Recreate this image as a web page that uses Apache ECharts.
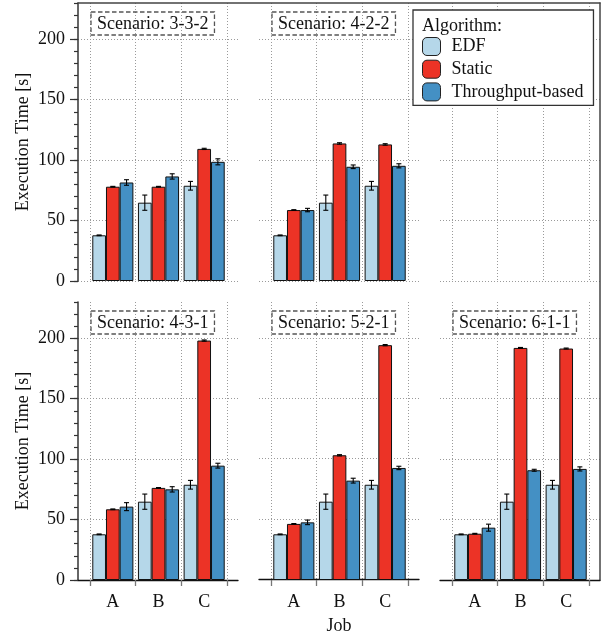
<!DOCTYPE html>
<html><head><meta charset="utf-8">
<script src="https://cdn.jsdelivr.net/npm/echarts@6/dist/echarts.min.js"></script>
<style>html,body{margin:0;padding:0;background:#fff}#c{width:608px;height:636px}</style>
</head><body><div id="c"></div>
<script>
// ---- data ----
const categories = ['A', 'B', 'C'];
const seriesNames = ['EDF', 'Static', 'Throughput-based'];
const yTicks = [0, 50, 100, 150, 200];

const s332_edf = [37.8, 64.8, 78.8];
const s332_static = [78, 78, 109.3];
const s332_thr = [81.5, 86.5, 98.6];
const s332_edfErr = [0.3, 6.3, 3.6];
const s332_staticErr = [0.3, 0.3, 0.5];
const s332_thrErr = [2.3, 2.2, 2.5];

const s422_edf = [37.8, 64.8, 78.8];
const s422_static = [58.7, 113.8, 113.0];
const s422_thr = [58.7, 94.5, 95.3];
const s422_edfErr = [0.3, 6.3, 3.6];
const s422_staticErr = [0.3, 0.6, 0.6];
const s422_thrErr = [1.4, 1.5, 1.7];

const s431_edf = [37.8, 64.8, 78.8];
const s431_static = [58.5, 76.2, 198.1];
const s431_thr = [60.7, 75.0, 94.6];
const s431_edfErr = [0.3, 6.3, 3.6];
const s431_staticErr = [0.3, 0.3, 0.5];
const s431_thrErr = [3.3, 2.2, 2.0];

const s521_edf = [37.8, 64.8, 78.8];
const s521_static = [46.4, 103.2, 194.3];
const s521_thr = [47.7, 82.2, 92.7];
const s521_edfErr = [0.3, 6.3, 3.6];
const s521_staticErr = [0.3, 0.5, 0.5];
const s521_thrErr = [1.9, 2.0, 1.4];

const s611_edf = [37.8, 64.8, 78.8];
const s611_static = [38.3, 192.0, 191.5];
const s611_thr = [43.3, 90.8, 91.9];
const s611_edfErr = [0.3, 6.3, 3.6];
const s611_staticErr = [0.3, 0.4, 0.4];
const s611_thrErr = [2.9, 0.8, 1.7];

const cells = [
  {label: '3-3-2', row: 0, col: 0, values: [s332_edf, s332_static, s332_thr], errors: [s332_edfErr, s332_staticErr, s332_thrErr]},
  {label: '4-2-2', row: 0, col: 1, values: [s422_edf, s422_static, s422_thr], errors: [s422_edfErr, s422_staticErr, s422_thrErr]},
  {label: null, row: 0, col: 2},
  {label: '4-3-1', row: 1, col: 0, values: [s431_edf, s431_static, s431_thr], errors: [s431_edfErr, s431_staticErr, s431_thrErr]},
  {label: '5-2-1', row: 1, col: 1, values: [s521_edf, s521_static, s521_thr], errors: [s521_edfErr, s521_staticErr, s521_thrErr]},
  {label: '6-1-1', row: 1, col: 2, values: [s611_edf, s611_static, s611_thr], errors: [s611_edfErr, s611_staticErr, s611_thrErr]}
];

// ---- style / layout ----
const FONT = 'Liberation Serif';
const FS = 18;
const colors = ['#b5d7e9', '#ec3326', '#4490c4'];
const frameL = [78, 259, 440], frameW = 160, catOff = 12, catW = 137;
const rowT = [3, 302], rowH = 278;
const YMAX = 230;
const gridLine = {color: '#9a9a9a', width: 1, type: [1, 2]};

const grid = [], xAxis = [], yAxis = [], series = [], title = [];

// outer frame (top + right)
grid.push({left: 78, top: 3, width: 522, height: 577});
xAxis.push({gridIndex: 0, type: 'value', min: 0, max: 1, position: 'top',
  axisLine: {show: true, onZero: false, lineStyle: {color: '#444', width: 1.5}},
  axisTick: {show: false}, axisLabel: {show: false}, splitLine: {show: false}});
yAxis.push({gridIndex: 0, type: 'value', min: 0, max: 1, position: 'right',
  axisLine: {show: true, onZero: false, lineStyle: {color: '#444', width: 1.5}},
  axisTick: {show: false}, axisLabel: {show: false}, splitLine: {show: false}});

function errRender(params, api) {
  const ci = api.value(0), lo = api.value(1), hi = api.value(2), k = api.value(3);
  const band = api.size([1, 0])[0];
  const bw = band * 0.9 / 3;
  const cx = api.coord([ci, 0])[0] + (k - 1) * bw;
  const yl = api.coord([ci, lo])[1], yh = api.coord([ci, hi])[1];
  const cap = 2.5;
  const st = {stroke: '#000', lineWidth: 1.1};
  return {type: 'group', children: [
    {type: 'line', shape: {x1: cx, y1: yl, x2: cx, y2: yh}, style: st},
    {type: 'line', shape: {x1: cx - cap, y1: yl, x2: cx + cap, y2: yl}, style: st},
    {type: 'line', shape: {x1: cx - cap, y1: yh, x2: cx + cap, y2: yh}, style: st}
  ]};
}

cells.forEach(c => {
  const top = rowT[c.row];
  // frame grid (y grid lines, y axis, bottom axis line)
  const gF = grid.length;
  grid.push({left: frameL[c.col], top: top, width: frameW, height: rowH});
  const isJob = c.row === 1 && c.col === 1;
  xAxis.push({gridIndex: gF, type: 'value', min: 0, max: 1,
    axisLine: {show: c.row === 1, onZero: false, lineStyle: {color: '#111', width: 1.3}},
    axisTick: {show: false}, axisLabel: {show: false}, splitLine: {show: false},
    name: isJob ? 'Job' : '', nameLocation: 'middle', nameGap: 38,
    nameTextStyle: {fontFamily: FONT, fontSize: FS, color: '#111'}});
  yAxis.push({gridIndex: gF, type: 'value', min: 0, max: YMAX, interval: 50, position: 'left',
    axisLine: {show: c.col === 0, onZero: false, lineStyle: {color: '#333', width: 1.5}},
    axisTick: {show: c.col === 0, length: 8, lineStyle: {color: '#333', width: 1.2}},
    axisLabel: {show: c.col === 0, showMaxLabel: false, margin: 13, fontFamily: FONT, fontSize: FS, color: '#111',
      formatter: v => yTicks.includes(v) ? String(v) : ''},
    splitLine: {show: true, showMaxLine: false, lineStyle: gridLine},
    name: c.col === 0 ? 'Execution Time [s]' : '', nameLocation: 'middle', nameGap: 46,
    nameTextStyle: {fontFamily: FONT, fontSize: FS, color: '#111'}});
  if (c.col === 0) {
    yAxis.push({gridIndex: gF, type: 'value', min: 0, max: YMAX, interval: 10, position: 'left',
      axisLine: {show: false}, axisTick: {show: true, length: 4, lineStyle: {color: '#333', width: 1.2}},
      axisLabel: {show: false}, splitLine: {show: false}});
  }
  // bar grid
  const gB = grid.length;
  grid.push({left: frameL[c.col] + catOff, top: top, width: catW, height: rowH});
  const xB = xAxis.length;
  xAxis.push({gridIndex: gB, type: 'category', data: categories, boundaryGap: true,
    axisLine: {show: false},
    axisTick: {show: c.row === 1, length: 6, lineStyle: {color: '#777', width: 1.3}},
    axisLabel: {show: c.row === 1, margin: 13, fontFamily: FONT, fontSize: FS, color: '#111'},
    splitLine: {show: true, lineStyle: gridLine}});
  const yB = yAxis.length;
  yAxis.push({gridIndex: gB, type: 'value', min: 0, max: YMAX, show: false});

  if (c.label) {
    title.push({text: '{b|Scenario: ' + c.label + '}', left: frameL[c.col] + catOff + 1, top: top + 9, padding: 0,
      textStyle: {fontFamily: FONT, fontWeight: 'normal', fontSize: FS,
        rich: {b: {fontFamily: FONT, fontWeight: 'normal', fontSize: FS, color: '#111', padding: [3, 6, 2, 6],
        borderColor: '#555', borderWidth: 1.3, borderType: [4.5, 2.5]}}}});
    [0, 1, 2].forEach(k => {
      series.push({type: 'bar', name: seriesNames[k], xAxisIndex: xB, yAxisIndex: yB, data: c.values[k],
        barGap: '0%', barCategoryGap: '10%',
        itemStyle: {color: colors[k], borderColor: '#111', borderWidth: 1},
        emphasis: {disabled: true}, animation: false});
    });
    const errData = [];
    [0, 1, 2].forEach(k => categories.forEach((cat, i) => {
      const v = c.values[k][i], e = c.errors[k][i];
      errData.push([i, v - e, v + e, k]);
    }));
    series.push({type: 'custom', xAxisIndex: xB, yAxisIndex: yB, z: 5, renderItem: errRender,
      encode: {x: 0, y: [1, 2]}, data: errData, animation: false, silent: true});
  }
});

title.push({text: 'Algorithm:', left: 422, top: 17, padding: 0,
  textStyle: {fontFamily: FONT, fontSize: 18, fontWeight: 'normal', color: '#111'}});

const chart = echarts.init(document.getElementById('c'), null, {renderer: 'canvas'});
chart.setOption({
  animation: false,
  backgroundColor: '#fff',
  title: title,
  grid: grid, xAxis: xAxis, yAxis: yAxis, series: series,
  legend: {data: seriesNames, orient: 'vertical', left: 413, top: 10,
    padding: [27, 10, 4, 9], itemWidth: 18, itemHeight: 18, itemGap: 3.7,
    backgroundColor: '#fff', borderColor: '#333', borderWidth: 1.3, icon: 'roundRect',
    itemStyle: {borderColor: '#222', borderWidth: 1},
    textStyle: {fontFamily: FONT, fontSize: 18, color: '#111', padding: [0, 0, 0, 6]}}
});
</script></body></html>
